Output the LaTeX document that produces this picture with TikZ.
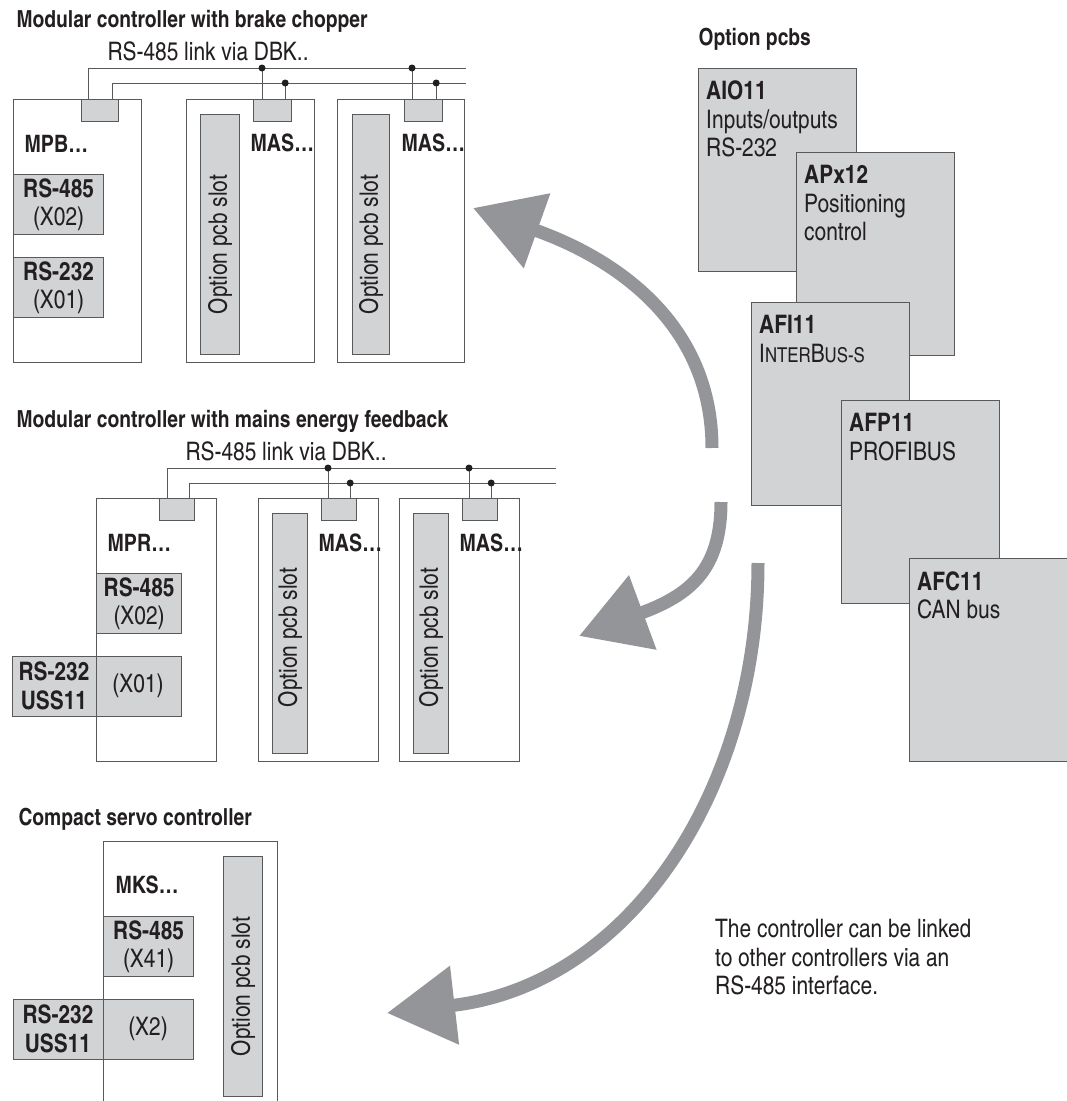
\documentclass[tikz,border=0pt]{standalone}
\usepackage{fontspec}
\setmainfont{texgyreheroscn}[Extension=.otf, UprightFont=*-regular, BoldFont=*-bold, ItalicFont=*-italic, BoldItalicFont=*-bolditalic]
\usepackage{tikz}
\usetikzlibrary{arrows.meta,positioning,calc}
\definecolor{boxgray}{RGB}{209,211,212}
\definecolor{arrowgray}{RGB}{147,149,152}
\definecolor{linegray}{RGB}{88,89,91}
\definecolor{textdark}{RGB}{35,31,32}
\newcommand{\bodyfont}{\fontsize{25.5}{28.5}\selectfont}
\newcommand{\headfont}{\fontsize{23.5}{26}\selectfont\bfseries}
\newcommand{\smallcap}[1]{{\fontsize{20.5}{22}\selectfont #1}}

\begin{document}
\begin{tikzpicture}[x=1pt, y=-1pt,
    every node/.style={text=textdark},
    unit/.style={rectangle, draw=linegray, line width=1.2pt, anchor=north west, inner sep=0pt},
    port/.style={unit, fill=boxgray, align=center, font=\bodyfont},
    slot/.style={unit, fill=boxgray, minimum height=240pt},
    conn/.style={unit, fill=boxgray, minimum height=22pt},
    pcb/.style={unit, fill=boxgray, minimum width=158pt, minimum height=203pt},
    pcbtext/.style={anchor=north west, align=left, font=\bodyfont, inner xsep=8pt, inner ysep=13pt},
    heading/.style={anchor=base west, font=\headfont},
    note/.style={anchor=base west, font=\bodyfont},
    model/.style={anchor=base west, font=\fontsize{24}{26}\selectfont\bfseries},
    slottext/.style={rotate=90, font=\bodyfont},
    bus/.style={draw=linegray, line width=1pt},
    tap/.style={circle, fill=textdark, inner sep=0pt, minimum size=7pt},
    arrow/.style={draw=arrowgray, line width=13pt, -{Triangle[length=68pt, width=76pt]}}
]
    \useasboundingbox (0,0) rectangle (1067,1101);
    \clip (0,0) rectangle (1067,1101);

    % brake chopper
    \node[heading] (title1) at (13,27) {Modular controller with brake chopper};
    \node[note] (link1) at (104,60) {RS-485 link via DBK..};
    \node[port, minimum width=90pt, minimum height=60pt] (mpb485) at (13,174) {\textbf{RS-485}\\(X02)};
    \node[port, minimum width=90pt, minimum height=60pt] (mpb232) at (13,257) {\textbf{RS-232}\\(X01)};
    \node[unit, minimum width=128pt, minimum height=263pt] (mpb) at (13,99) {};
    \node[conn, minimum width=37pt] (mpbconn) at (81,99) {};
    \node[model] (mpbname) at (21,152) {MPB…};

    \node[unit, minimum width=128pt, minimum height=263pt] (mas1) at (186,99) {};
    \node[slot, minimum width=39pt] (mas1slot) at (200,114) {};
    \node[slottext] (mas1slottext) at ($(mas1slot.center)+(0,10)$) {Option pcb slot};
    \node[conn, minimum width=38pt] (mas1conn) at (253,99) {};
    \node[model] (mas1name) at (247,151) {MAS…};

    \node[unit, minimum width=127pt, minimum height=263pt] (mas2) at (337,99) {};
    \node[slot, minimum width=37pt] (mas2slot) at (352,114) {};
    \node[slottext] (mas2slottext) at ($(mas2slot.center)+(0,10)$) {Option pcb slot};
    \node[conn, minimum width=38pt] (mas2conn) at (404,99) {};
    \node[model] (mas2name) at (398,151) {MAS…};

    \coordinate (bus1a) at (466,68);
    \coordinate (bus1b) at (466,83);
    \draw[bus] (mpbconn.north west) ++(7,0) |- (bus1a);
    \draw[bus] (mpbconn.north east) ++(-7,0) |- (bus1b);
    \draw[bus] (mas1conn.north west) ++(9,0) coordinate (mas1a) -- (mas1a |- bus1a) node[tap] (mas1tapa) {};
    \draw[bus] (mas1conn.north east) ++(-7,0) coordinate (mas1b) -- (mas1b |- bus1b) node[tap] (mas1tapb) {};
    \draw[bus] (mas2conn.north west) ++(8,0) coordinate (mas2a) -- (mas2a |- bus1a) node[tap] (mas2tapa) {};
    \draw[bus] (mas2conn.north east) ++(-7,0) coordinate (mas2b) -- (mas2b |- bus1b) node[tap] (mas2tapb) {};

    % mains energy feedback
    \node[heading] (title2) at (13,427) {Modular controller with mains energy feedback};
    \node[note] (link2) at (182,460) {RS-485 link via DBK..};
    \node[port, minimum width=85pt, minimum height=60pt] (mpr485) at (96,573) {\textbf{RS-485}\\(X02)};
    \node[port, minimum width=169pt, minimum height=60pt] (mpr232) at (12,656) {};
    \node[font=\bodyfont\bfseries, align=center] (mpr232name) at (54,686) {RS-232\\USS11};
    \node[font=\bodyfont] (mpr232x) at (138,686) {(X01)};
    \node[unit, minimum width=120pt, minimum height=263pt] (mpr) at (96,498) {};
    \node[conn, minimum width=35pt] (mprconn) at (159,498) {};
    \node[model] (mprname) at (104,551) {MPR…};

    \node[unit, minimum width=120pt, minimum height=263pt] (mas3) at (258,498) {};
    \node[slot, minimum width=35pt] (mas3slot) at (272,513) {};
    \node[slottext] (mas3slottext) at ($(mas3slot.center)+(0,4)$) {Option pcb slot};
    \node[conn, minimum width=35pt] (mas3conn) at (321,498) {};
    \node[model] (mas3name) at (315,551) {MAS…};

    \node[unit, minimum width=120pt, minimum height=263pt] (mas4) at (399,498) {};
    \node[slot, minimum width=35pt] (mas4slot) at (413,513) {};
    \node[slottext] (mas4slottext) at ($(mas4slot.center)+(0,4)$) {Option pcb slot};
    \node[conn, minimum width=35pt] (mas4conn) at (462,498) {};
    \node[model] (mas4name) at (456,551) {MAS…};

    \coordinate (bus2a) at (556,468);
    \coordinate (bus2b) at (556,483);
    \draw[bus] (mprconn.north west) ++(8,0) |- (bus2a);
    \draw[bus] (mprconn.north east) ++(-6,0) |- (bus2b);
    \draw[bus] (mas3conn.north west) ++(7,0) coordinate (mas3a) -- (mas3a |- bus2a) node[tap] (mas3tapa) {};
    \draw[bus] (mas3conn.north east) ++(-7,0) coordinate (mas3b) -- (mas3b |- bus2b) node[tap] (mas3tapb) {};
    \draw[bus] (mas4conn.north west) ++(7,0) coordinate (mas4a) -- (mas4a |- bus2a) node[tap] (mas4tapa) {};
    \draw[bus] (mas4conn.north east) ++(-7,0) coordinate (mas4b) -- (mas4b |- bus2b) node[tap] (mas4tapb) {};

    % compact servo
    \node[heading] (title3) at (15,825) {Compact servo controller};
    \node[port, minimum width=90pt, minimum height=60pt] (mks485) at (103,916) {\textbf{RS-485}\\(X41)};
    \node[port, minimum width=180pt, minimum height=60pt] (mks232) at (13,999) {};
    \node[font=\bodyfont\bfseries, align=center] (mks232name) at (58,1029) {RS-232\\USS11};
    \node[font=\bodyfont] (mks232x) at (148,1029) {(X2)};
    \node[unit, minimum width=174pt, minimum height=290pt] (mks) at (103,841) {};
    \node[slot, minimum width=39pt] (mksslot) at (223,856) {};
    \node[slottext] (mksslottext) at ($(mksslot.center)+(0,10)$) {Option pcb slot};
    \node[model] (mksname) at (112,893) {MKS…};

    % option pcbs
    \node[heading] (pcbtitle) at (695,45) {Option pcbs};
    \node[pcb] (aio) at (698,68) {};
    \node[pcbtext] (aiotext) at (aio.north west) {\textbf{AIO11}\\Inputs/outputs\\RS-232};
    \node[pcb] (apx) at (796,152) {};
    \node[pcbtext] (apxtext) at (apx.north west) {\textbf{APx12}\\Positioning\\control};
    \node[pcb] (afi) at (751,302) {};
    \node[pcbtext] (afitext) at (afi.north west) {\textbf{AFI11}\\I\smallcap{NTER}B\smallcap{US-S}};
    \node[pcb] (afp) at (841,400) {};
    \node[pcbtext] (afptext) at (afp.north west) {\textbf{AFP11}\\PROFIBUS};
    \node[pcb] (afc) at (909,558) {};
    \node[pcbtext] (afctext) at (afc.north west) {\textbf{AFC11}\\CAN bus};

    \node[note, align=left, anchor=north west, inner sep=0pt] (remark) at (715,919) {The controller can be linked\\to other controllers via an\\RS-485 interface.};

    % arrows
    \coordinate (arr1s) at (712,448);
    \coordinate (arr1t) at (473,208);
    \coordinate (arr2s) at (721,502);
    \coordinate (arr2t) at (579,636);
    \coordinate (arr3s) at (758,563);
    \coordinate (arr3t) at (387,1013);
    \draw[arrow] (arr1s) .. controls (712,330) and (625,262) .. (arr1t);
    \draw[arrow] (arr2s) .. controls (721,570) and (690,595) .. (arr2t);
    \draw[arrow] (arr3s) .. controls (758,790) and (630,985) .. (arr3t);
\end{tikzpicture}
\end{document}
